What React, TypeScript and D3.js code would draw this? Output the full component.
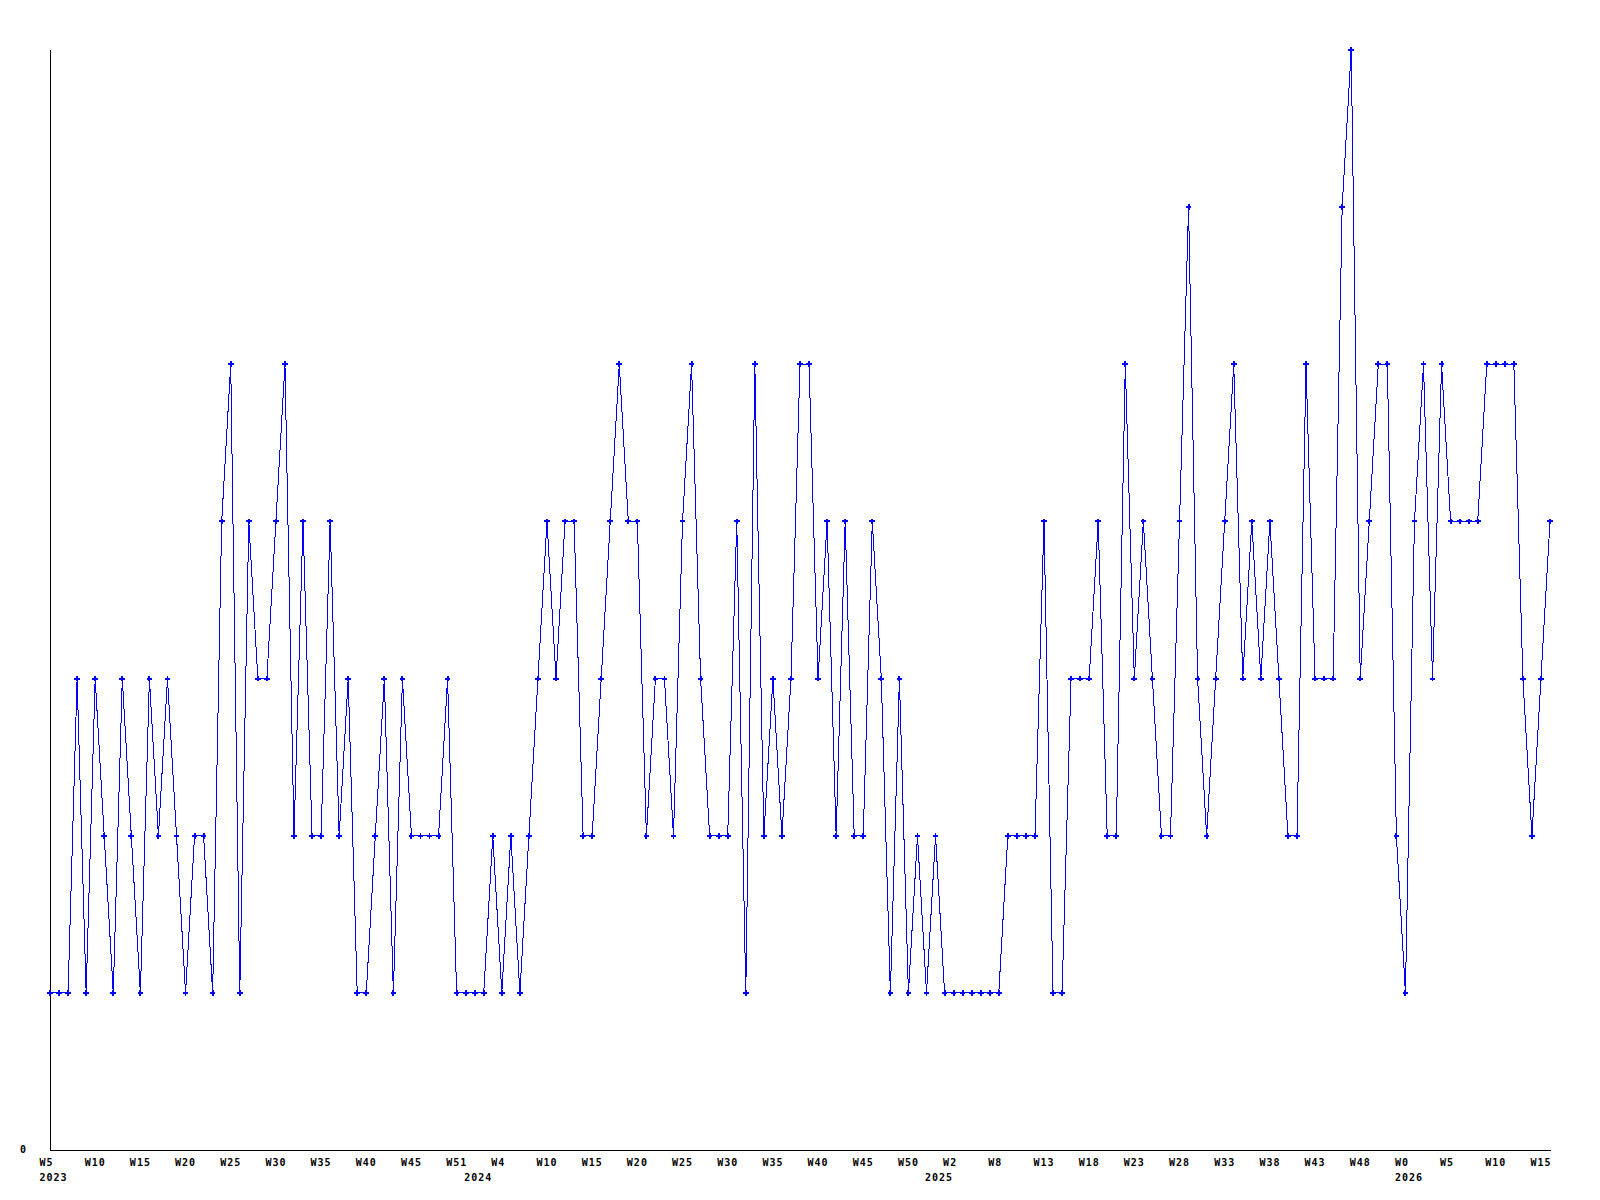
import React, { useEffect, useRef } from "react";
import * as d3 from "d3";

// weekly counts, first point is W5 2023
const counts = [
  1, 1, 1, 3, 1, 3, 2, 1, 3, 2,
  1, 3, 2, 3, 2, 1, 2, 2, 1, 4,
  5, 1, 4, 3, 3, 4, 5, 2, 4, 2,
  2, 4, 2, 3, 1, 1, 2, 3, 1, 3,
  2, 2, 2, 2, 3, 1, 1, 1, 1, 2,
  1, 2, 1, 2, 3, 4, 3, 4, 4, 2,
  2, 3, 4, 5, 4, 4, 2, 3, 3, 2,
  4, 5, 3, 2, 2, 2, 4, 1, 5, 2,
  3, 2, 3, 5, 5, 3, 4, 2, 4, 2,
  2, 4, 3, 1, 3, 1, 2, 1, 2, 1,
  1, 1, 1, 1, 1, 1, 2, 2, 2, 2,
  4, 1, 1, 3, 3, 3, 4, 2, 2, 5,
  3, 4, 3, 2, 2, 4, 6, 3, 2, 3,
  4, 5, 3, 4, 3, 4, 3, 2, 2, 5,
  3, 3, 3, 6, 7, 3, 4, 5, 5, 2,
  1, 4, 5, 3, 5, 4, 4, 4, 4, 5,
  5, 5, 5, 3, 2, 3, 4,
];

// one label every 5 points
const weekLabels = [
  "W5", "W10", "W15", "W20", "W25", "W30", "W35", "W40", "W45", "W51",
  "W4", "W10", "W15", "W20", "W25", "W30", "W35", "W40", "W45", "W50",
  "W2", "W8", "W13", "W18", "W23", "W28", "W33", "W38", "W43", "W48",
  "W0", "W5", "W10", "W15",
];
const labelStep = 5;

const yearLabels = ["2023", "2024", "2025", "2026"];
const yearIndex = [0, 47, 98, 150];

const yTicks = [0];

const App: React.FC = () => {
  const svgRef = useRef<SVGSVGElement>(null);

  useEffect(() => {
    if (!svgRef.current) return;

    const width = 1600;
    const height = 1200;
    const margin = { top: 50, right: 50, bottom: 50, left: 50 };
    const font = "'DejaVu Sans Mono', 'Liberation Mono', monospace";

    const xScale = d3
      .scaleLinear()
      .domain([0, counts.length - 1])
      .range([margin.left, width - margin.right]);

    const yScale = d3
      .scaleLinear()
      .domain([0, d3.max(counts) || 7])
      .range([height - margin.bottom, margin.top]);

    const svg = d3.select(svgRef.current);
    svg.selectAll("*").remove();

    svg
      .append("rect")
      .attr("width", width)
      .attr("height", height)
      .attr("fill", "#fff");

    // axes (plain lines, no tick marks)
    const y0 = Math.round(yScale(0)) + 0.5;
    const x0 = Math.round(xScale(0)) + 0.5;
    svg
      .append("line")
      .attr("x1", x0)
      .attr("x2", Math.round(xScale(counts.length - 1)) + 0.5)
      .attr("y1", y0)
      .attr("y2", y0)
      .attr("stroke", "#000")
      .attr("shape-rendering", "crispEdges");
    svg
      .append("line")
      .attr("x1", x0)
      .attr("x2", x0)
      .attr("y1", Math.round(yScale(d3.max(counts) || 7)))
      .attr("y2", y0)
      .attr("stroke", "#000")
      .attr("shape-rendering", "crispEdges");

    // y labels
    svg
      .append("g")
      .selectAll("text")
      .data(yTicks)
      .join("text")
      .attr("x", 20)
      .attr("y", (d) => yScale(d) + 3)
      .attr("font-family", font)
      .attr("font-size", 10)
      .attr("font-weight", "bold")
      .text((d) => String(d));

    // week labels
    svg
      .append("g")
      .selectAll("text")
      .data(weekLabels)
      .join("text")
      .attr("x", (_, i) => xScale(i * labelStep) - 10.5)
      .attr("y", 1166)
      .attr("font-family", font)
      .attr("font-size", 10)
      .attr("font-weight", "bold")
      .attr("letter-spacing", 1)
      .text((d) => d);

    // year labels
    svg
      .append("g")
      .selectAll("text")
      .data(yearLabels)
      .join("text")
      .attr("x", (_, i) => xScale(yearIndex[i]) - 10.5)
      .attr("y", 1181)
      .attr("font-family", font)
      .attr("font-size", 10)
      .attr("font-weight", "bold")
      .attr("letter-spacing", 1)
      .text((d) => d);

    // the series
    const line = d3
      .line<number>()
      .x((_, i) => xScale(i))
      .y((d) => yScale(d));

    svg
      .append("path")
      .datum(counts)
      .attr("fill", "none")
      .attr("stroke", "#0000ff")
      .attr("stroke-width", 1)
      .attr("shape-rendering", "crispEdges")
      .attr("d", line);

    const marker = d3.symbol(d3.symbolCross, 18);
    svg
      .append("g")
      .selectAll("path")
      .data(counts)
      .join("path")
      .attr("transform", (d, i) => `translate(${xScale(i)},${yScale(d)})`)
      .attr("d", marker)
      .attr("fill", "#0000ff")
      .attr("shape-rendering", "crispEdges");
  }, []);

  return (
    <svg
      ref={svgRef}
      width={1600}
      height={1200}
      style={{ position: "absolute", left: 0, top: 0 }}
    ></svg>
  );
};

export default App;
